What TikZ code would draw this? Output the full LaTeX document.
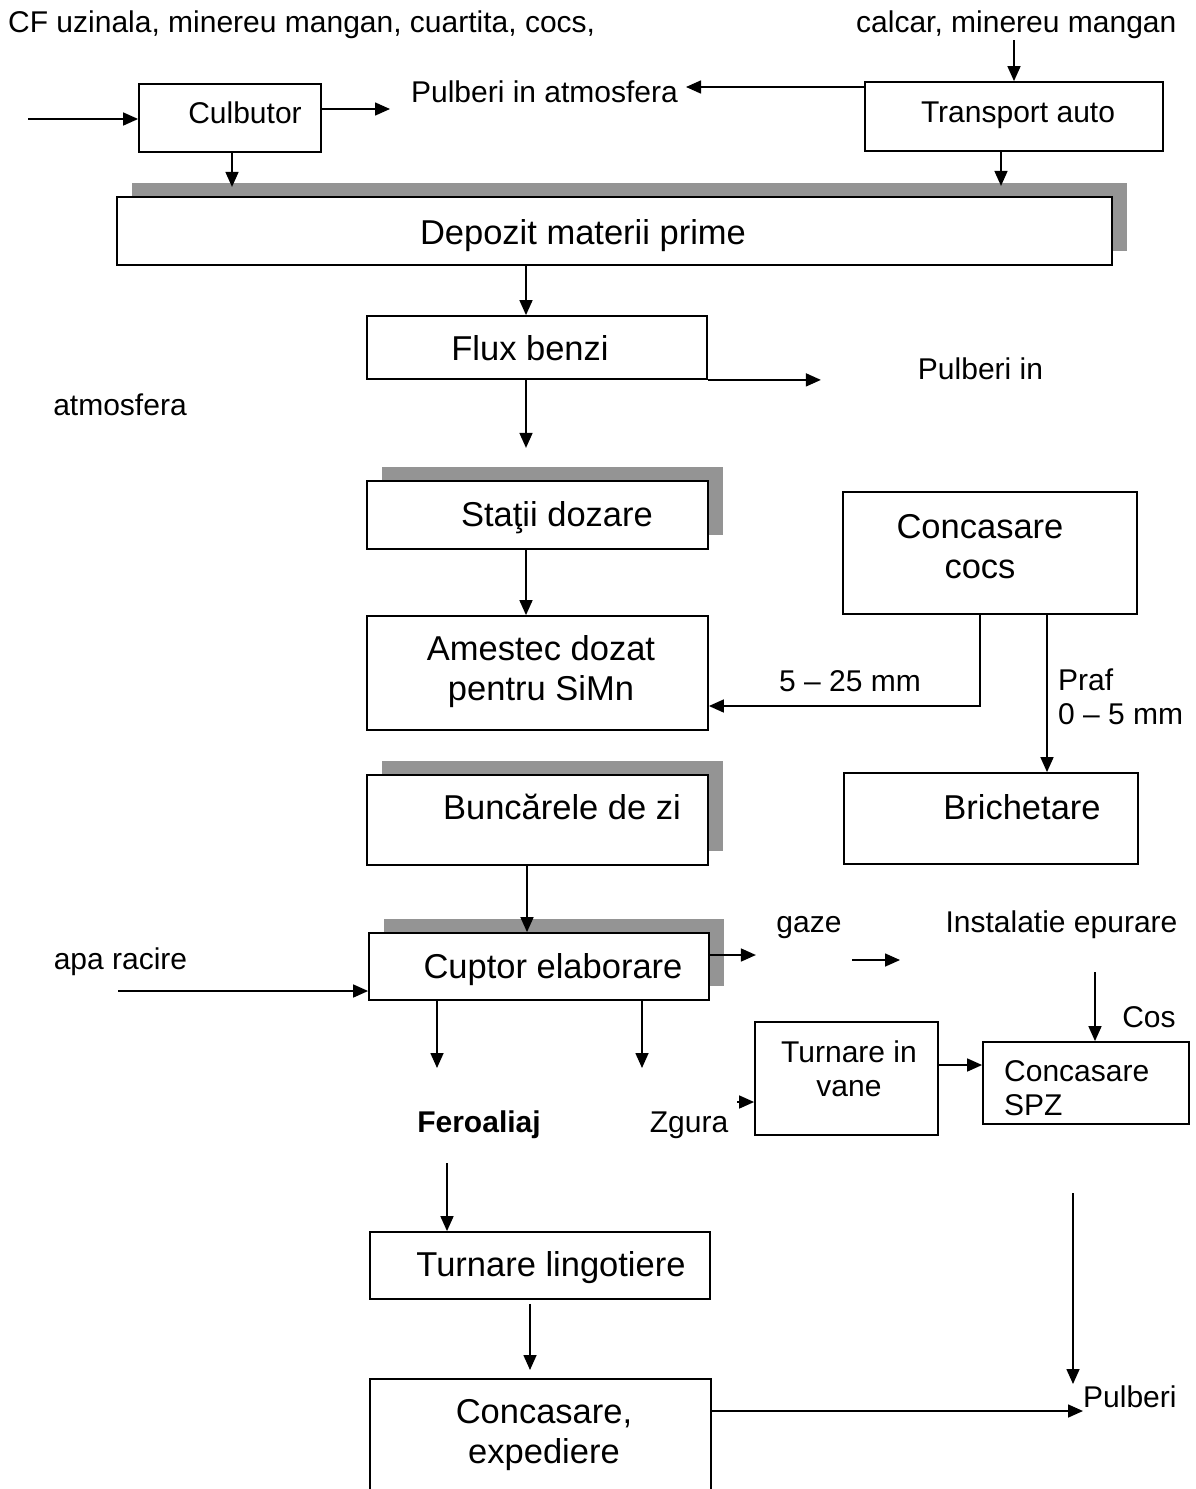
\documentclass[tikz,border=0pt]{standalone}
\usepackage{fontspec}
\setmainfont{Liberation Sans}
\usetikzlibrary{arrows.meta,shadows}
\tikzset{
  box/.style={draw, line width=1.8pt, fill=white, inner sep=0pt},
  sbox/.style={box, general shadow={fill=black!42, draw=none, shadow xshift=15pt, shadow yshift=14pt}},
  sm/.style={font=\fontsize{30}{34}\selectfont, inner sep=0pt, align=center},
  bg/.style={font=\fontsize{34.5}{40}\selectfont, inner sep=0pt, align=center},
  arr/.style={line width=1.6pt, -{Triangle[length=15pt,width=13pt]}},
}
\begin{document}
\begin{tikzpicture}[x=1pt,y=-1pt]
\useasboundingbox (0,0) rectangle (1195,1489);

% ---------- boxes ----------
\node[box, minimum width=182pt, minimum height=68pt] (culb) at (230,118) {};
\node[box, minimum width=298pt, minimum height=69pt] (trans) at (1014,116.5) {};
\node[sbox, minimum width=995pt, minimum height=68pt] (depo) at (614.5,231) {};
\node[box, minimum width=340pt, minimum height=63pt] (flux) at (537,347.5) {};
\node[sbox, minimum width=341pt, minimum height=68pt] (stat) at (537.5,515) {};
\node[box, minimum width=341pt, minimum height=114pt] (ames) at (537.5,673) {};
\node[box, minimum width=294pt, minimum height=122pt] (ccocs) at (990,553) {};
\node[box, minimum width=294pt, minimum height=91pt] (brich) at (991,818.5) {};
\node[sbox, minimum width=341pt, minimum height=90pt] (bunc) at (537.5,820) {};
\node[sbox, minimum width=340pt, minimum height=67pt] (cupt) at (539,966.5) {};
\node[box, minimum width=183pt, minimum height=113pt] (tvane) at (846.5,1078.5) {};
\node[box, minimum width=206pt, minimum height=82pt] (cspz) at (1086,1083) {};
\node[box, minimum width=340pt, minimum height=67pt] (tling) at (540,1265.5) {};
\node[box, minimum width=341pt, minimum height=118pt] (cexp) at (540.5,1438) {};

% ---------- texts ----------
\node[sm, anchor=base west] (cf) at (8,32) {CF uzinala, minereu mangan, cuartita, cocs,};
\node[sm, anchor=base west] (calc) at (856,32) {calcar, minereu mangan};
\node[sm, anchor=base] (culbt) at (245,123) {Culbutor};
\node[sm, anchor=base] (pat) at (544.5,102) {Pulberi in atmosfera};
\node[sm, anchor=base] (transt) at (1018,122) {Transport auto};
\node[bg, anchor=base] (depot) at (583,244) {Depozit materii prime};
\node[bg, anchor=base] (fluxt) at (530,360) {Flux benzi};
\node[sm, anchor=base] (pin) at (980.5,379) {Pulberi in};
\node[sm, anchor=base] (atm) at (120,415) {atmosfera};
\node[bg, anchor=base] (statt) at (557,526) {Staţii dozare};
\node[bg] (amest) at (541,672) {Amestec dozat\\pentru SiMn};
\node[bg] (ccocst) at (980,547) {Concasare\\cocs};
\node[sm, anchor=base] (mm525) at (850,691) {5 – 25 mm};
\node[sm, anchor=west, align=left] (praf) at (1058,697) {Praf\\0 – 5 mm};
\node[bg, anchor=base] (bricht) at (1022,819) {Brichetare};
\node[bg, anchor=base] (bunct) at (562,819) {Buncărele de zi};
\node[sm, anchor=base] (gaze) at (809,932) {gaze};
\node[sm, anchor=base] (inst) at (1061.5,932) {Instalatie epurare};
\node[bg, anchor=base] (cuptt) at (553,978) {Cuptor elaborare};
\node[sm, anchor=base] (apa) at (120.5,969) {apa racire};
\node[sm, anchor=base] (cos) at (1149,1027) {Cos};
\node[sm] (tvanet) at (849,1069) {Turnare in\\vane};
\node[sm, anchor=west, align=left] (cspzt) at (1004,1088) {Concasare\\SPZ};
\node[sm, anchor=base, font=\fontsize{30}{34}\selectfont\bfseries] (fero) at (479,1132) {Feroaliaj};
\node[sm, anchor=base] (zgura) at (689,1132) {Zgura};
\node[bg, anchor=base] (tlingt) at (551,1276) {Turnare lingotiere};
\node[bg] (cexpt) at (544,1435) {Concasare,\\expediere};
\node[sm, anchor=base west] (pulb) at (1083,1407) {Pulberi};

% ---------- coordinates ----------
\coordinate (inL) at (28,119);
\coordinate (p1) at (390,109);
\coordinate (p2) at (686,87);
\coordinate (c526) at (526,0);
\coordinate (c980) at (980,0);
\coordinate (c706) at (0,706);
\coordinate (c1047) at (1047,0);
\coordinate (c527) at (527,0);
\coordinate (c955) at (0,955);
\coordinate (g1) at (852,960);
\coordinate (g2) at (900,960);
\coordinate (c1095) at (1095,972);
\coordinate (c991) at (118,991);
\coordinate (c437) at (437,1068);
\coordinate (c642) at (642,1068);
\coordinate (z1) at (737,1102);
\coordinate (c1065) at (0,1065);
\coordinate (c447) at (447,1163);
\coordinate (c530) at (530,1370);
\coordinate (c1411) at (0,1411);
\coordinate (c1073) at (1073,1193);
\coordinate (c1073b) at (1073,1384);

% ---------- connectors ----------
\draw[arr] (inL) -- (culb.west |- inL);
\draw[arr] (culb.east |- p1) -- (p1);
\draw[arr] (trans.west |- p2) -- (p2);
\draw[arr] (trans.north |- 0,40) -- (trans.north);
\draw[arr] ([xshift=-13pt]trans.south) -- ++(0,34);
\draw[arr] ([xshift=2pt]culb.south) -- ++(0,34);
\draw[arr] (depo.south -| c526) -- (flux.north -| c526);
\draw[arr] (flux.south east) -- ++(113,0);
\draw[arr] (flux.south -| c526) -- ++(0,68);
\draw[arr] (stat.south -| c526) -- (ames.north -| c526);
\draw[arr] (ccocs.south -| c980) |- (ames.east |- c706);
\draw[arr] (ccocs.south -| c1047) -- (brich.north -| c1047);
\draw[arr] (bunc.south -| c527) -- (cupt.north -| c527);
\draw[arr] (cupt.east |- c955) -- ++(46,0);
\draw[arr] (g1) -- (g2);
\draw[arr] (c1095) -- (cspz.north -| c1095);
\draw[arr] (c991) -- (cupt.west |- c991);
\draw[arr] (cupt.south -| c437) -- (c437);
\draw[arr] (cupt.south -| c642) -- (c642);
\draw[arr] (z1) -- (tvane.west |- z1);
\draw[arr] (tvane.east |- c1065) -- (cspz.west |- c1065);
\draw[arr] (c447) -- (tling.north -| c447);
\draw[arr] ([yshift=-4pt]tling.south -| c530) -- (c530);
\draw[arr] (cexp.east |- c1411) -- (pulb.west |- c1411);
\draw[arr] (c1073) -- (c1073b);
\end{tikzpicture}
\end{document}
